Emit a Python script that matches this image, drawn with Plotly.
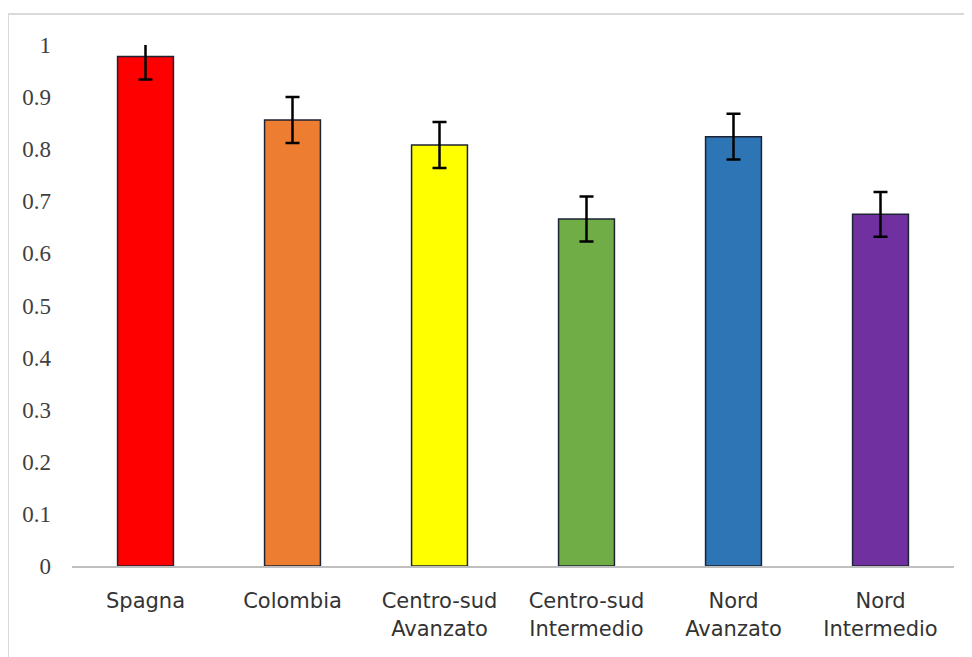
import plotly.graph_objects as go

categories = ["Spagna", "Colombia", "Centro-sud<br>Avanzato", "Centro-sud<br>Intermedio", "Nord<br>Avanzato", "Nord<br>Intermedio"]
values = [0.978, 0.856, 0.808, 0.666, 0.824, 0.675]
errors = [0.044, 0.044, 0.044, 0.043, 0.044, 0.043]
colors = ["#FF0000", "#ED7D31", "#FFFF00", "#70AD47", "#2E75B6", "#7030A0"]
y_ticks = [0, 0.1, 0.2, 0.3, 0.4, 0.5, 0.6, 0.7, 0.8, 0.9, 1]
y_tick_labels = ["0", "0.1", "0.2", "0.3", "0.4", "0.5", "0.6", "0.7", "0.8", "0.9", "1"]

fig = go.Figure(go.Bar(
    x=categories, y=values,
    marker=dict(color=colors, line=dict(color="#1c2333", width=1.5)),
    width=0.38,
    error_y=dict(type="data", array=errors, visible=True, color="black", thickness=2.5, width=7),
    cliponaxis=False,
))

fig.update_layout(
    width=972, height=657,
    margin=dict(l=64, r=26, t=37, b=99),
    paper_bgcolor="white", plot_bgcolor="white",
    showlegend=False,
    xaxis=dict(showline=True, linecolor="#bfbfbf", linewidth=2, ticks="",
               tickfont=dict(family="DejaVu Sans", size=21, color="#333333"),
               ticklabelstandoff=15),
    yaxis=dict(range=[0, 1], tickvals=y_ticks, ticktext=y_tick_labels, showgrid=False,
               zeroline=False, showline=False, ticks="",
               tickfont=dict(family="Liberation Serif", size=23, color="#404040"),
               ticklabelstandoff=20),
    shapes=[dict(type="rect", xref="paper", yref="paper",
                 x0=-0.0726, x1=1.04, y0=-0.2, y1=1.0595,
                 line=dict(color="#d9d9d9", width=2), layer="below")],
)

fig.write_html("out.html")
